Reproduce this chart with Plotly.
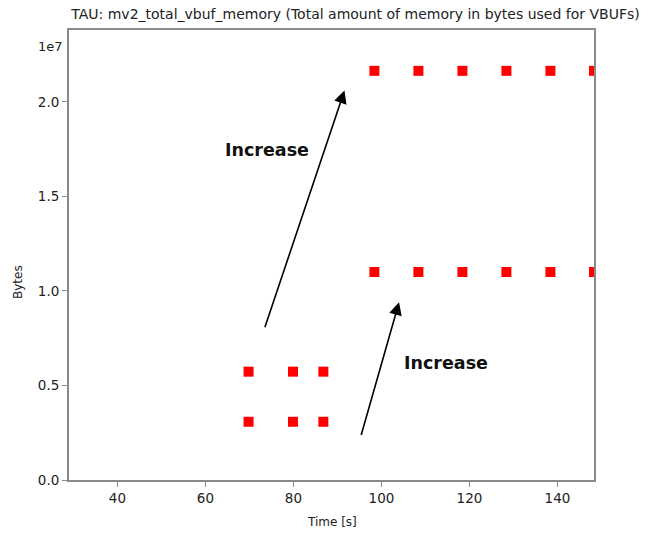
import plotly.graph_objects as go

# Data
early_time = [69.8, 79.9, 86.8]
early_upper = [5.73e6, 5.73e6, 5.73e6]
early_lower = [3.08e6, 3.08e6, 3.08e6]

late_time = [98.4, 108.4, 118.4, 128.4, 138.4, 148.3]
late_upper = [2.164e7] * 6
late_lower = [1.100e7] * 6

x_ticks = [40, 60, 80, 100, 120, 140]
y_tickvals = [0.0, 0.5e7, 1.0e7, 1.5e7, 2.0e7]
y_ticktext = ["0.0", "0.5", "1.0", "1.5", "2.0"]

x_range = [29.0, 148.3]
y_range = [0.0, 2.38e7]

# annotation arrows (tail -> head) and labels, in data units
arrows = [
    {"tail": (73.4, 0.80e7), "head": (91.6, 2.06e7)},
    {"tail": (95.3, 0.23e7), "head": (104.0, 0.94e7)},
]
labels = [
    {"x": 74.1, "y": 1.746e7, "text": "Increase"},
    {"x": 114.7, "y": 0.618e7, "text": "Increase"},
]

FONT = "DejaVu Sans"
AXIS_COLOR = "#8a8a8a"
TEXT_COLOR = "#222222"
W, H = 650, 536
L, R, T, B = 69, 56, 30, 56

fig = go.Figure()
marker = dict(symbol="square", size=10, color="#ff0000", line=dict(width=0))
for xs, ys in [(early_time, early_upper), (early_time, early_lower),
               (late_time, late_upper), (late_time, late_lower)]:
    fig.add_trace(go.Scatter(x=xs, y=ys, mode="markers", marker=marker,
                             showlegend=False, cliponaxis=True))

annotations = []
for a in arrows:
    annotations.append(dict(
        x=a["head"][0], y=a["head"][1], ax=a["tail"][0], ay=a["tail"][1],
        xref="x", yref="y", axref="x", ayref="y", text="",
        showarrow=True, arrowhead=2, arrowsize=1.6, arrowwidth=1.6,
        arrowcolor="#000000", standoff=0, startstandoff=0))
for l in labels:
    annotations.append(dict(
        x=l["x"], y=l["y"], xref="x", yref="y", text="<b>" + l["text"] + "</b>",
        showarrow=False, font=dict(family=FONT, size=17.5, color="#111111"),
        xanchor="center", yanchor="middle"))
annotations.append(dict(
    x=0, y=1, xref="paper", yref="paper", text="1e7", showarrow=False,
    xanchor="right", yanchor="middle", xshift=-4, yshift=-16,
    font=dict(family=FONT, size=13, color=TEXT_COLOR)))
# axis titles
annotations.append(dict(
    x=0.5, y=0, xref="paper", yref="paper", text="Time [s]", showarrow=False,
    xanchor="center", yanchor="middle", yshift=-(522 - (H - B)),
    font=dict(family=FONT, size=12, color=TEXT_COLOR)))
annotations.append(dict(
    x=0, y=0, xref="paper", yref="paper", text="Bytes", showarrow=False,
    xanchor="center", yanchor="middle", textangle=-90,
    xshift=18 - L, yshift=(H - B) - 282,
    font=dict(family=FONT, size=12, color=TEXT_COLOR)))

fig.update_layout(
    width=W, height=H,
    margin=dict(l=L, r=R, t=T, b=B, pad=0, autoexpand=False),
    paper_bgcolor="white", plot_bgcolor="white",
    title=dict(text="TAU: mv2_total_vbuf_memory (Total amount of memory in bytes used for VBUFs)",
               x=(63 + 648) / 2 / W, xanchor="center", y=1 - 14 / H, yanchor="middle",
               font=dict(family=FONT, size=14, color=TEXT_COLOR)),
    font=dict(family=FONT, size=13, color=TEXT_COLOR),
    annotations=annotations,
    xaxis=dict(range=x_range, tickvals=x_ticks, showgrid=False, zeroline=False,
               automargin=False,
               showline=True, mirror=True, linecolor=AXIS_COLOR, linewidth=2,
               ticks="outside", ticklen=5, tickwidth=1, tickcolor=AXIS_COLOR,
               tickfont=dict(family=FONT, size=13.5, color=TEXT_COLOR)),
    yaxis=dict(range=y_range, tickvals=y_tickvals, ticktext=y_ticktext,
               showgrid=False, zeroline=False, automargin=False,
               showline=True, mirror=True, linecolor=AXIS_COLOR, linewidth=2,
               ticks="outside", ticklen=5, tickwidth=1, tickcolor=AXIS_COLOR,
               tickfont=dict(family=FONT, size=13.5, color=TEXT_COLOR)),
)

fig.write_html("out.html")
